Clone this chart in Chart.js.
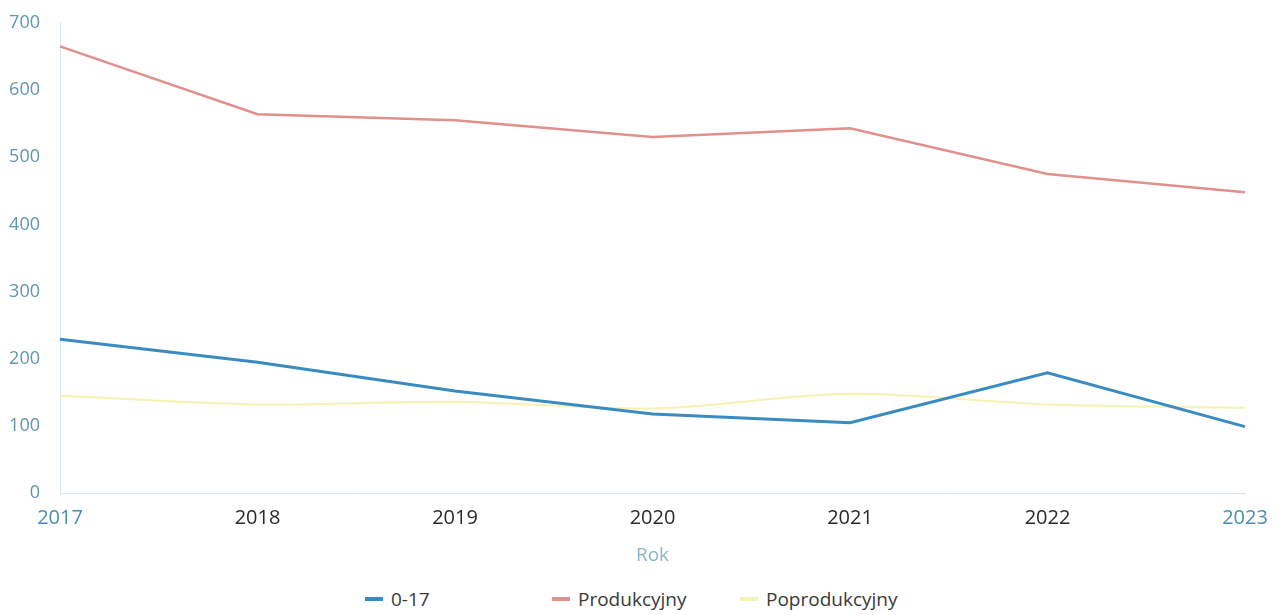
<!DOCTYPE html>
<html>
<head>
<meta charset="utf-8">
<script src="https://cdn.jsdelivr.net/npm/chart.js@4"></script>
<style>
  html, body { margin: 0; padding: 0; background: #fff; }
  #wrap { position: relative; width: 1279px; height: 571px; }
  #legend { position: relative; height: 40px; font-family: "Open Sans", sans-serif; font-size: 19px; color: #3a3a3a; }
  .item { position: absolute; top: 17px; display: flex; align-items: center; line-height: 22px; }
  .swatch { display: inline-block; width: 18px; height: 4px; margin-right: 8px; }
</style>
</head>
<body>
<div id="wrap"><canvas id="chart"></canvas></div>
<div id="legend"></div>
<script>
const years = ['2017', '2018', '2019', '2020', '2021', '2022', '2023'];
const kids = [229, 195, 152, 118, 105, 179, 99];
const working = [665, 564, 555, 530, 543, 475, 448];
const retired = [145, 132, 136, 126, 148, 132, 127];
const yTicks = [0, 100, 200, 300, 400, 500, 600, 700];

const ctx = document.getElementById('chart').getContext('2d');
const chart = new Chart(ctx, {
    type: 'line',
    data: {
        labels: years,
        datasets: [
            { label: '0-17', data: kids, borderColor: '#3a8cc0', borderWidth: 3, pointRadius: 0, tension: 0 },
            { label: 'Produkcyjny', data: working, borderColor: '#e2908c', borderWidth: 2.5, pointRadius: 0, tension: 0 },
            { label: 'Poprodukcyjny', data: retired, borderColor: '#f6f3b0', borderWidth: 2, pointRadius: 0, tension: 0.3 }
        ]
    },
    options: {
        responsive: true, maintainAspectRatio: false,
        animation: false,
        layout: { padding: { top: 15, right: 34, left: 0, bottom: 0 } },
        plugins: { legend: { display: false }, tooltip: { enabled: false } },
        scales: {
            x: {
                grid: { display: false },
                border: { display: true, color: '#d8e5ec', dash: [2, 2] },
                ticks: {
                    padding: 5,
                    font: { family: 'Open Sans', size: 20 },
                    color: c => (c.index === 0 || c.index === years.length - 1) ? '#4b8fb0' : '#2a2a2a',
                    maxRotation: 0
                },
                title: { display: true, text: 'Rok', color: '#8db5c8', font: { family: 'Open Sans', size: 19 }, padding: { top: 9 } }
            },
            y: {
                min: 0, max: 700,
                afterFit: s => { s.width = 60; },
                afterBuildTicks: s => { s.ticks = yTicks.map(v => ({ value: v })); },
                grid: { display: false },
                border: { display: true, color: '#d8e5ec', dash: [2, 2] },
                ticks: { padding: 12, font: { family: 'Open Sans', size: 18 }, color: '#5f97ae' }
            }
        }
    }
});

const legendLeft = [365, 552, 740];
document.getElementById('legend').innerHTML = chart.data.datasets.map((d, i) =>
    `<span class="item" style="left:${legendLeft[i]}px"><span class="swatch" style="background:${d.borderColor}"></span>${d.label}</span>`
).join('');
</script>
</body>
</html>
